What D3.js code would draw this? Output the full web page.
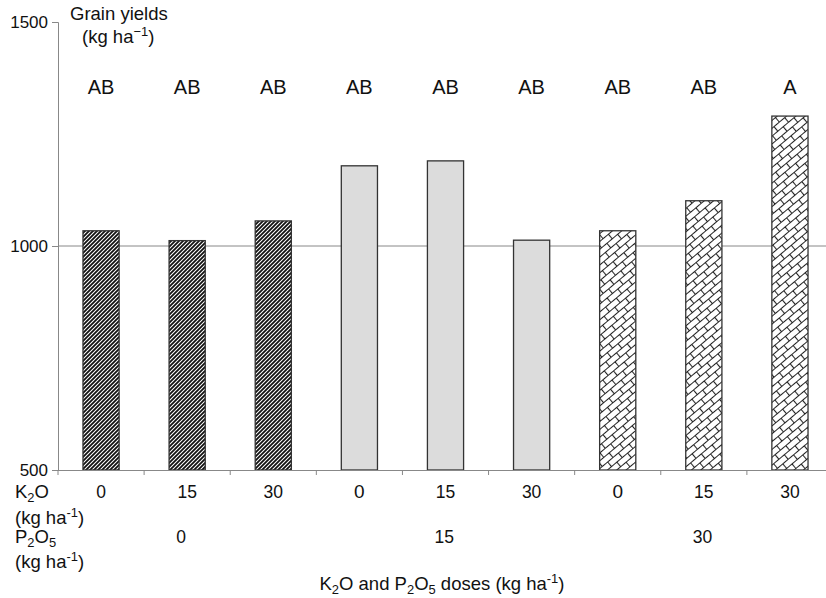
<!DOCTYPE html>
<html>
<head>
<meta charset="utf-8">
<script src="https://cdn.jsdelivr.net/npm/d3@7"></script>
<style>
  html, body { margin: 0; padding: 0; background: #fff; }
  svg { display: block; font-family: "Liberation Sans", Arial, sans-serif; }
</style>
</head>
<body>
<svg id="chart" width="826" height="598"></svg>
<script>
// ---- data ----
const categories = ["K0-P0","K15-P0","K30-P0","K0-P15","K15-P15","K30-P15","K0-P30","K15-P30","K30-P30"];
const yields = [1034, 1012, 1056, 1179, 1190, 1013, 1034, 1101, 1290];
const letters = ["AB","AB","AB","AB","AB","AB","AB","AB","A"];
const k2oLabels = ["0","15","30","0","15","30","0","15","30"];
const p2o5Labels = ["0","15","30"];
const groupOf = [0,0,0,1,1,1,2,2,2];
const yTicks = [500, 1000, 1500];

const svg = d3.select("#chart");
svg.append("rect").attr("width", 826).attr("height", 598).attr("fill", "#fff");

const defs = svg.append("defs");
// dense diagonal stripes
const p1 = defs.append("pattern").attr("id", "stripes").attr("patternUnits", "userSpaceOnUse")
  .attr("width", 4).attr("height", 4);
p1.append("rect").attr("width", 4).attr("height", 4).attr("fill", "#fff");
p1.append("path").attr("d", "M-1,5 L5,-1 M-1,1 L1,-1 M3,5 L5,3")
  .attr("stroke", "#111").attr("stroke-width", 1.8);
// diagonal brick / weave
const p3 = defs.append("pattern").attr("id", "brick").attr("patternUnits", "userSpaceOnUse")
  .attr("width", 14).attr("height", 12).attr("patternTransform", "rotate(-40)");
p3.append("rect").attr("width", 14).attr("height", 12).attr("fill", "#fff");
p3.append("path").attr("d", "M0,0.5 H14 M0,6.5 H14 M0.5,0.5 V6.5 M7.5,6.5 V12.5")
  .attr("stroke", "#222").attr("stroke-width", 1.1);

const fills = ["url(#stripes)", "#dcdcdc", "url(#brick)"];

const x = d3.scaleBand().domain(categories).range([58, 833]).paddingInner(0.58).paddingOuter(0.29);
const y = d3.scaleLinear().domain([500, 1500]).range([470, 22]);
const step = x.step();

// gridline at 1000
svg.append("line").attr("x1", 58).attr("x2", 833).attr("y1", y(1000)).attr("y2", y(1000))
  .attr("stroke", "#888").attr("stroke-width", 1);

// bars
svg.selectAll("rect.bar").data(categories).enter().append("rect").attr("class", "bar")
  .attr("x", d => x(d)).attr("width", x.bandwidth())
  .attr("y", (d, i) => y(yields[i])).attr("height", (d, i) => y(500) - y(yields[i]))
  .attr("fill", (d, i) => fills[groupOf[i]])
  .attr("stroke", "#333").attr("stroke-width", 1.3);

// y axis
const yAxis = svg.append("g").attr("transform", "translate(58,0)")
  .call(d3.axisLeft(y).tickValues(yTicks).tickSize(6).tickPadding(4).tickFormat(d3.format("d")));
yAxis.select(".domain").attr("stroke", "#888");
yAxis.selectAll(".tick line").attr("stroke", "#888");
yAxis.selectAll(".tick text").attr("font-size", 17).attr("fill", "#111")
  .attr("font-family", "Liberation Sans, Arial, sans-serif");

// x axis (boundary ticks)
const boundaries = d3.range(categories.length + 1).map(i => 58 + i * step);
svg.append("line").attr("x1", 58).attr("x2", 833).attr("y1", 470.5).attr("y2", 470.5)
  .attr("stroke", "#888");
svg.selectAll("line.xt").data(boundaries).enter().append("line").attr("class", "xt")
  .attr("x1", d => d).attr("x2", d => d).attr("y1", 470).attr("y2", 475)
  .attr("stroke", "#888");

// letters
svg.selectAll("text.let").data(categories).enter().append("text").attr("class", "let")
  .attr("x", d => x(d) + x.bandwidth() / 2).attr("y", 94)
  .attr("text-anchor", "middle").attr("font-size", 20).attr("fill", "#111")
  .text((d, i) => letters[i]);

// K2O values
svg.selectAll("text.k").data(categories).enter().append("text").attr("class", "k")
  .attr("x", d => x(d) + x.bandwidth() / 2).attr("y", 498)
  .attr("text-anchor", "middle").attr("font-size", (d, i) => (i === 3 || i === 6) ? 19 : 17.5)
  .attr("fill", "#111").text((d, i) => k2oLabels[i]);

// P2O5 values (at middle category of each group)
svg.selectAll("text.p").data(p2o5Labels).enter().append("text").attr("class", "p")
  .attr("x", (d, g) => x(categories[g * 3 + 1]) + x.bandwidth() / 2 - 11).attr("y", 543)
  .attr("text-anchor", "start").attr("font-size", 17.5).attr("fill", "#111").text(d => d);

// row labels
function sub(t, parts, fs) {
  parts.forEach(p => {
    if (p.sub) t.append("tspan").attr("font-size", fs * 0.7).attr("dy", 4).text(p.t);
    else if (p.sup) t.append("tspan").attr("font-size", fs * 0.7).attr("dy", -7).text(p.t);
    else t.append("tspan").attr("dy", p.dy || 0).text(p.t);
  });
}
const fs = 18.5;
let t;
t = svg.append("text").attr("x", 15).attr("y", 498).attr("font-size", fs).attr("fill", "#111");
sub(t, [{t: "K"}, {t: "2", sub: true}, {t: "O", dy: -4}], fs);
t = svg.append("text").attr("x", 15).attr("y", 524).attr("font-size", fs).attr("fill", "#111");
sub(t, [{t: "(kg ha"}, {t: "-1", sup: true}, {t: ")", dy: 7}], fs);
t = svg.append("text").attr("x", 15).attr("y", 543).attr("font-size", fs).attr("fill", "#111");
sub(t, [{t: "P"}, {t: "2", sub: true}, {t: "O", dy: -4}, {t: "5", sub: true}], fs);
t = svg.append("text").attr("x", 15).attr("y", 568).attr("font-size", fs).attr("fill", "#111");
sub(t, [{t: "(kg ha"}, {t: "-1", sup: true}, {t: ")", dy: 7}], fs);

// x title
t = svg.append("text").attr("x", 442).attr("y", 590).attr("text-anchor", "middle")
  .attr("font-size", fs).attr("fill", "#111");
sub(t, [{t: "K"}, {t: "2", sub: true}, {t: "O and P", dy: -4}, {t: "2", sub: true}, {t: "O", dy: -4},
        {t: "5", sub: true}, {t: " doses (kg ha", dy: -4}, {t: "-1", sup: true}, {t: ")", dy: 7}], fs);

// y title
svg.append("text").attr("x", 70).attr("y", 20).attr("font-size", 18.5).attr("fill", "#111").text("Grain yields");
t = svg.append("text").attr("x", 82).attr("y", 43).attr("font-size", 18.5).attr("fill", "#111");
sub(t, [{t: "(kg ha"}, {t: "\u22121", sup: true}, {t: ")", dy: 7}], 18.5);
</script>
</body>
</html>
